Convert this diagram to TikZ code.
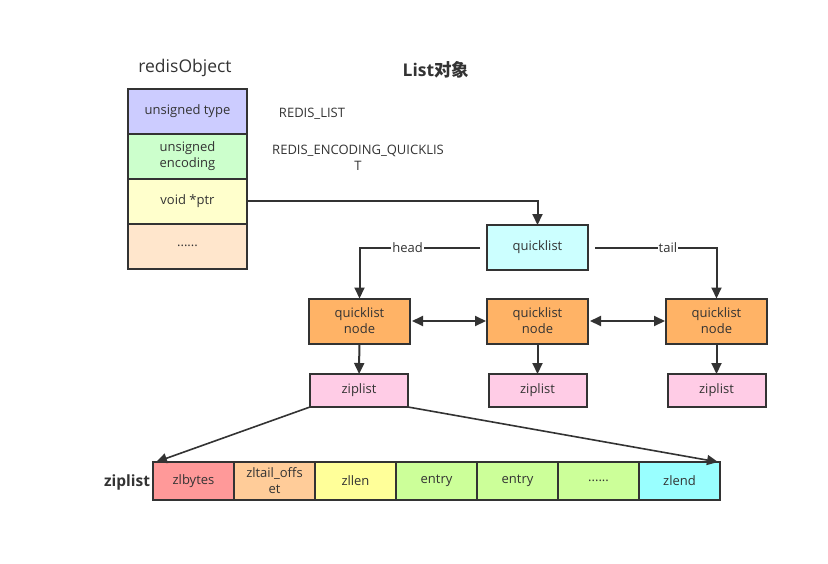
\documentclass[tikz,border=0pt]{standalone}
\usepackage{fontspec}
\setmainfont{Open Sans}
\newfontfamily\cjk{Noto Sans CJK SC}
\usetikzlibrary{positioning, arrows.meta}

\definecolor{linec}{HTML}{333333}
\definecolor{typec}{HTML}{CCCCFF}
\definecolor{encc}{HTML}{CCFFCC}
\definecolor{ptrc}{HTML}{FFFFCC}
\definecolor{dotsc}{HTML}{FFE6CC}
\definecolor{qlc}{HTML}{CCFFFF}
\definecolor{qnc}{HTML}{FFB366}
\definecolor{zlc}{HTML}{FFCCE6}
\definecolor{bytesc}{HTML}{FF9999}
\definecolor{tailc}{HTML}{FFCC99}
\definecolor{lenc}{HTML}{FFFF99}
\definecolor{entc}{HTML}{CCFF99}
\definecolor{endc}{HTML}{99FFFF}

\tikzset{
  box/.style = {draw = linec, line width = 2, inner sep = 0, outer sep = 0,
    align = center, text = linec, font = \fontsize{13}{16}\selectfont},
  cell/.style = {box, minimum width = 119, minimum height = 45},
  qbox/.style = {box, minimum width = 101, minimum height = 45},
  zbox/.style = {box, minimum width = 98, minimum height = 33},
  zcell/.style = {box, minimum width = 81, minimum height = 38},
  link/.style = {draw = linec, line width = 2},
  lbl/.style = {text = linec, font = \fontsize{13}{16}\selectfont, inner sep = 1},
}

\begin{document}
\begin{tikzpicture}[x = 1pt, y = -1pt, >={Triangle[length = 11pt, width = 10pt]}]
    \useasboundingbox (0, 0) rectangle (828, 563);

    % redisObject
    \node [text = linec, font = \fontsize{17.5}{20}\selectfont] (title) at (185, 68) {redisObject};
    \node [text = linec, font = \fontsize{17.5}{20}\selectfont\bfseries] (list) at (436, 70) {List{\cjk\bfseries 对象}};

    \node [cell, fill = typec] (type) at (187.5, 111) {unsigned type};
    \node [cell, fill = encc, below = 0 of type] (enc) {unsigned\\encoding};
    \node [cell, fill = ptrc, below = 0 of enc] (ptr) {void *ptr};
    \node [cell, fill = dotsc, below = 0 of ptr] (dots) {......};

    \node [lbl] (rlist) at (312, 114) {REDIS\_LIST};
    \node [lbl, align = center] (renc) at (358, 158) {REDIS\_ENCODING\_QUICKLIS\\T};

    % quicklist
    \node [qbox, fill = qlc] (ql) at (537.5, 247.5) {quicklist};

    \node [qbox, fill = qnc] (qn1) at (359.5, 321) {quicklist\\node};
    \node [qbox, fill = qnc] (qn2) at (537.5, 321) {quicklist\\node};
    \node [qbox, fill = qnc] (qn3) at (716.5, 321) {quicklist\\node};

    \node [zbox, fill = zlc] (zl1) at (359, 390.5) {ziplist};
    \node [zbox, fill = zlc] (zl2) at (537.5, 390.5) {ziplist};
    \node [zbox, fill = zlc] (zl3) at (716.5, 390.5) {ziplist};

    \draw [link, ->] (ptr.east) -| (ql.north);
    \draw [link, ->] ([xshift = -7] ql.west) -| node [pos = 0.3, fill = white, lbl] {head} (qn1.north);
    \draw [link, ->] ([xshift = 7] ql.east) -| node [pos = 0.3, fill = white, lbl] {tail} (qn3.north);

    \draw [link, <->] ([xshift = 2] qn1.east) -- ([xshift = -1] qn2.west);
    \draw [link, <->] ([xshift = 2] qn2.east) -- ([xshift = -1] qn3.west);

    \draw [link, ->] (qn1) -- (zl1);
    \draw [link, ->] (qn2) -- (zl2);
    \draw [link, ->] (qn3) -- (zl3);

    % ziplist layout
    \node [text = linec, font = \fontsize{15.5}{18}\selectfont\bfseries] (zname) at (127, 482) {ziplist};
    \node [zcell, fill = bytesc] (zlbytes) at (193.5, 481) {zlbytes};
    \node [zcell, fill = tailc, right = 0 of zlbytes] (zltail) {zltail\_offs\\et};
    \node [zcell, fill = lenc, right = 0 of zltail] (zllen) {zllen};
    \node [zcell, fill = entc, right = 0 of zllen] (ent1) {entry};
    \node [zcell, fill = entc, right = 0 of ent1] (ent2) {entry};
    \node [zcell, fill = entc, right = 0 of ent2] (ent3) {......};
    \node [zcell, fill = endc, right = 0 of ent3] (zlend) {zlend};

    \draw [link, line width = 1.6, ->] (zl1.south west) -- ([xshift = 3] zlbytes.north west);
    \draw [link, line width = 1.6, ->] (zl1.south east) -- ([xshift = -2] zlend.north east);
\end{tikzpicture}
\end{document}
